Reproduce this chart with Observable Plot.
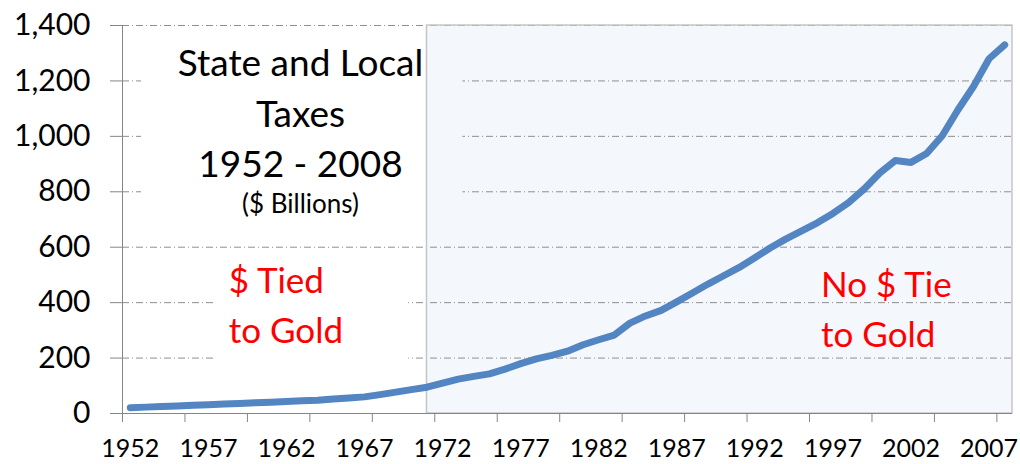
<!DOCTYPE html>
<html>
<head>
<meta charset="utf-8">
<script src="https://cdn.jsdelivr.net/npm/d3@7"></script>
<script src="https://cdn.jsdelivr.net/npm/@observablehq/plot@0.6"></script>
<style>
  html, body { margin: 0; padding: 0; background: #fff; }
  #chart svg { display: block; }
</style>
</head>
<body>
<div id="chart"></div>
<script>
// ---- data ----
const years = [1952,1953,1954,1955,1956,1957,1958,1959,1960,1961,1962,1963,1964,1965,1966,1967,1968,1969,1970,
  1971,1972,1973,1974,1975,1976,1977,1978,1979,1980,1981,1982,1983,1984,1985,1986,1987,1988,1989,1990,
  1991,1992,1993,1994,1995,1996,1997,1998,1999,2000,2001,2002,2003,2004,2005,2006,2007,2008];
const taxes = [21,23,25,27,30,32,34,36,39,41,43.5,46,48,52,56,60,68,77,86,
  95,110,124,134,143,160,180,197,210,225,248,266,283,326,352,372,403,435,467,497,
  527,562,598,630,659,688,722,761,810,868,913,906,938,1002,1095,1180,1280,1330];
const yTicks = [0,200,400,600,800,1000,1200,1400];
const gridValues = [200,400,600,800,1000,1200,1400];
const labelYears = [1952,1957,1962,1967,1972,1977,1982,1987,1992,1997,2002,2007];
const tickYears = [1952,1956,1960,1964,1968,1972,1976,1980,1984,1988,1992,1996,2000,2004,2008];
const goldEndYear = 1971;
const titleLines = ["State and Local", "Taxes", "1952 - 2008"];
const subTitle = "($ Billions)";
const tiedLines = ["$ Tied", "to Gold"];
const noTieLines = ["No $ Tie", "to Gold"];

const data = years.map((y, i) => ({year: y, value: taxes[i]}));
const xMin = years[0] - 0.5, xMax = years[years.length - 1] + 0.5;
const shade = [{x1: goldEndYear, x2: xMax, y1: 0, y2: 1400}];

const axisGray = "#868686";

const chart = Plot.plot({
  width: 1020,
  height: 464,
  marginLeft: 122,
  marginRight: 8,
  marginTop: 25,
  marginBottom: 51,
  style: {fontFamily: "Lato, 'Open Sans', sans-serif", background: "#fff"},
  x: {domain: [xMin, xMax], axis: null},
  y: {domain: [0, 1400], axis: null},
  marks: [
    // shaded "no tie" region
    Plot.rect(shade, {x1: "x1", x2: "x2", y1: "y1", y2: "y2", fill: "#f4f8fc"}),
    // gridlines
    Plot.ruleY(gridValues, {stroke: "#8f8f8f", strokeWidth: 1, strokeDasharray: "7,3,1,3"}),
    // text box backgrounds that hide gridlines
    Plot.rect([{x1: 1952.72, x2: goldEndYear, y1: 650, y2: 1350}], {x1: "x1", x2: "x2", y1: "y1", y2: "y2", fill: "#fff"}),
    Plot.rect([{x1: goldEndYear, x2: 1973.3, y1: 650, y2: 1350}], {x1: "x1", x2: "x2", y1: "y1", y2: "y2", fill: "#f4f8fc"}),
    Plot.rect([{x1: 1957.33, x2: 1969.83, y1: 120, y2: 560}], {x1: "x1", x2: "x2", y1: "y1", y2: "y2", fill: "#fff"}),
    // shaded region border
    Plot.rect(shade, {x1: "x1", x2: "x2", y1: "y1", y2: "y2", fill: "none", stroke: "#c6c6c6", strokeWidth: 1.5}),
    // axes lines
    Plot.ruleX([xMin], {y1: 0, y2: 1400, stroke: axisGray}),
    Plot.ruleY([0], {stroke: axisGray}),
    Plot.axisY(yTicks, {tickSize: 12, tickPadding: 20, tickFormat: d3.format(","), fontSize: 30,
      stroke: axisGray, fill: "#000"}),
    Plot.axisX(tickYears.map(d => d - 0.5), {tickSize: 9, tickFormat: () => "", stroke: axisGray}),
    Plot.axisX(labelYears, {tickSize: 0, tickPadding: 26, fontSize: 25, tickFormat: d => String(d), fill: "#000"}),
    // series
    Plot.line(data, {x: "year", y: "value", stroke: "#5285c1", strokeWidth: 7,
      strokeLinejoin: "round", strokeLinecap: "round"}),
    // title annotation
    Plot.text(titleLines.map((t, i) => ({t, y: [1216, 1033, 855][i]})),
      {x: 1962.9, y: "y", text: "t", fontSize: 37, fill: "#000", textAnchor: "middle", lineAnchor: "bottom"}),
    Plot.text([subTitle], {x: 1962.9, y: 722, text: d => d, fontSize: 26, fill: "#000",
      textAnchor: "middle", lineAnchor: "bottom"}),
    // gold annotations
    Plot.text(tiedLines.map((t, i) => ({t, y: [433, 253][i]})),
      {x: 1958.3, y: "y", text: "t", fontSize: 35, fill: "#ff0000", textAnchor: "start", lineAnchor: "bottom"}),
    Plot.text(noTieLines.map((t, i) => ({t, y: [422, 239][i]})),
      {x: 1996.24, y: "y", text: "t", fontSize: 35, fill: "#ff0000", textAnchor: "start", lineAnchor: "bottom"})
  ]
});
document.getElementById("chart").appendChild(chart);
</script>
</body>
</html>
